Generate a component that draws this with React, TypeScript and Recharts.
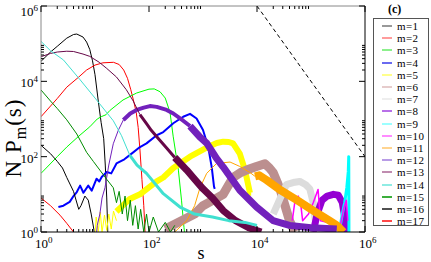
import React from 'react';
import { LineChart, Line, XAxis, YAxis } from 'recharts';

type Pt = [number, number];

// values (s, N*P_m(s))
const m1: Pt[] = [[1, 3.4e4], [1.5, 6e4], [2, 8.5e4], [3, 1.4e5], [4, 1.75e5], [4.6, 1.8e5], [6, 1.5e5], [7, 1.1e5], [8, 7e4], [9, 3.5e4], [10, 1.5e4], [11.5, 3000], [13, 800], [14.5, 300], [15.5, 60], [16.5, 8], [17.5, 0.5]];
const m2: Pt[] = [[1, 1150], [2, 3500], [3, 7000], [5, 1.3e4], [7, 2e4], [10, 2.7e4], [14, 3.1e4], [22, 3.2e4], [28, 2.8e4], [34, 2e4], [40, 1.2e4], [46, 6000], [52, 3000], [58, 1500], [63, 600], [68, 150], [74, 25], [80, 5], [86, 0.6]];
const m3: Pt[] = [[1, 36], [2, 100], [3, 180], [5, 350], [8, 620], [11, 1000], [13, 1150], [16, 1300], [19, 1700], [33, 3200], [59, 4900], [100, 6200], [125, 6300], [160, 5300], [200, 3600], [245, 1500], [280, 350], [350, 44], [400, 7], [445, 1.3], [470, 0.6]];
const m4: Pt[] = [[2.1, 4.6], [2.6, 5], [3.4, 6.3], [4, 9], [4.6, 11.5], [5.3, 17], [6.1, 11], [7.5, 17], [8.7, 12.5], [10.7, 26], [12, 22], [13.3, 29], [16.5, 39], [20, 36], [25, 66], [35, 85], [44, 110], [68, 180], [90, 225], [139, 370], [184, 450], [282, 770], [430, 1150], [575, 1370], [760, 1030], [1000, 510], [1250, 180], [1450, 53], [1600, 16], [1650, 14]];
const m5Start: Pt[] = [[10, 0.8], [10.5, 2.5], [11.5, 1], [12.5, 3.4], [13.5, 1], [15, 2.8], [16.5, 1.1], [18, 3], [20, 1.2], [22, 3.6], [25, 2]];
const m5Band: Pt[] = [[25, 3.5], [30, 4.5], [44, 7.5], [68, 10], [104, 16], [139, 22], [184, 28], [282, 50], [575, 100], [1170, 175], [1800, 230], [2370, 250], [3000, 245], [3600, 225], [4800, 120], [6000, 44], [7400, 11], [7800, 11]];
const m6: Pt[] = [[200, 1.2], [400, 2], [700, 3], [1000, 5], [1540, 7], [2370, 10], [3000, 18], [3600, 28], [5000, 38], [6400, 44], [9800, 55], [14000, 65], [17000, 50], [19900, 38], [24000, 20], [27000, 13], [33000, 5], [40000, 2], [50000, 1]];
const m7: Pt[] = [[20000, 3], [28000, 9], [35000, 18], [50000, 21], [62000, 22], [80000, 18], [95000, 14], [110000, 6], [120000, 2]];
const m8: Pt[] = [[1.1e5, 1], [1.3e5, 3], [1.6e5, 7], [2e5, 9], [2.6e5, 10], [3.2e5, 9.5], [3.8e5, 6], [4.3e5, 2], [4.5e5, 1]];
const m9: Pt[] = [[3.4e5, 1.2], [3.8e5, 3], [4.2e5, 6], [4.6e5, 15], [4.9e5, 40], [5e5, 100], [5.05e5, 0.5]];
const m10: Pt[] = [[4.5e4, 2], [5e4, 6], [5.8e4, 9], [6.5e4, 5], [7e4, 2], [9e4, 3], [1.1e5, 6], [1.35e5, 13.5], [1.5e5, 2], [3.5e5, 1.5], [4e5, 4], [4.5e5, 7], [4.8e5, 2]];
const m11Rise: Pt[] = [[300, 1], [500, 2], [700, 5], [880, 15], [1170, 36], [1780, 66], [3170, 72], [4800, 55], [7400, 38], [9200, 30]];
const m11Tail: Pt[] = [[9200, 30], [11000, 32], [15000, 24], [27000, 13], [55000, 7], [1.1e5, 3.7], [2.2e5, 2], [3e5, 1.5], [4e5, 1]];
const m12Rise: Pt[] = [[10.5, 0.7], [11, 1.5], [12.3, 3], [13.5, 8], [15.3, 15], [18, 60], [21.8, 220], [27, 500], [33.5, 940]];
const m12Band: Pt[] = [[33.5, 940], [45, 1400], [59, 1740], [80, 2000], [104, 2200], [139, 2100], [212, 1740], [282, 1400], [430, 900], [575, 650]];
const m12Tail: Pt[] = [[575, 650], [880, 330], [1170, 230], [1780, 90], [2370, 53], [4800, 12.8], [9800, 4.6], [19900, 2], [40000, 1.5], [1e5, 1.3], [3e5, 1.2]];
const m13Head: Pt[] = [[1, 4.5e4], [1.5, 5.5e4], [2, 6e4], [3, 6.3e4], [4, 6.2e4], [6, 5.3e4], [8, 4.6e4], [12, 3.2e4], [16.5, 2.2e4], [25, 1.3e4], [38, 6000], [51, 3000], [68, 1300]];
const m13Band: Pt[] = [[68, 1300], [90, 750], [110, 500], [150, 300], [212, 170], [300, 95]];
const m13Tail: Pt[] = [[300, 95], [500, 44], [700, 25], [1000, 14], [1500, 8], [2370, 3.7], [4000, 2], [7000, 1.3], [12000, 1]];
const m14Head: Pt[] = [[1, 1.15e5], [1.5, 6.5e4], [2.6, 3.7e4], [5.3, 1.1e4], [10.7, 3200], [21.8, 900], [31, 360], [44, 110]];
const m14Band: Pt[] = [[44, 110], [60, 60], [90, 36], [184, 10.4], [375, 4.6], [700, 3], [1500, 2.5], [3000, 2], [6000, 1.8], [10000, 1.5]];
const m15: Pt[] = [[1, 5900], [1.5, 3000], [2, 1900], [3, 950], [4.6, 400], [7, 130], [9.3, 75], [12.3, 44], [16.5, 25], [21.8, 15], [25, 6], [28, 12], [32, 3], [36, 9], [40, 2], [45, 7], [50, 1.5], [56, 5], [63, 1.2], [70, 4], [80, 1], [90, 3], [100, 1], [120, 2.5], [150, 1], [200, 1.8], [250, 1], [300, 1.5]];
const m16: Pt[] = [[1, 200], [1.5, 120], [2, 75], [2.5, 50], [3, 28], [4, 12], [5, 4], [5.5, 5], [6.5, 9], [7.5, 7], [8.5, 3], [9.5, 1.2], [10, 0.5]];
const m17: Pt[] = [[1, 8], [1.5, 5], [2.25, 2.8], [3, 1.7], [4, 1], [4.5, 0.7]];
const guide: Pt[] = [[1e4, 1e6], [1e6, 100]];

const legendNames = ['m=1', 'm=2', 'm=3', 'm=4', 'm=5', 'm=6', 'm=7', 'm=8', 'm=9', 'm=10', 'm=11', 'm=12', 'm=13', 'm=14', 'm=15', 'm=16', 'm=17'];
const lineColors = ['#000000', '#ff0000', '#00ff00', '#0000ff', '#ffff00', '#bc8f8f', '#dcdcdc', '#9400d3', '#00ffff', '#ff00ff', '#ffa500', '#7221bc', '#670748', '#40e0d0', '#008b00', '#000000', '#ff0000'];
const legendColors = ['#999999', '#ff9c9c', '#8cf08c', '#6a6af0', '#ffff8c', '#e6cccc', '#eeeeee', '#b870e8', '#9cffff', '#ff8cff', '#ffd490', '#b89ce6', '#c08cb0', '#90ece4', '#3cae3c', '#505050', '#ff4848'];

// tick values (same on both axes); labelled ones are the even powers of ten
const tickValues = [1, 2, 3, 4, 5, 6, 7, 8, 9, 100, 200, 300, 400, 500, 600, 700, 800, 900, 1e4, 2e4, 3e4, 4e4, 5e4, 6e4, 7e4, 8e4, 9e4, 1e6];
const majorTicks = [1, 100, 1e4, 1e6];

const serif = '"Liberation Serif", "DejaVu Serif", serif';

// each part: [data, series index, stroke width]
const parts: [Pt[], number, number][] = [
  [m1, 0, 1], [m2, 1, 1], [m3, 2, 1], [m4, 3, 2],
  [m5Start, 4, 1], [m5Band, 4, 6], [m6, 5, 9], [m7, 6, 7], [m8, 7, 7],
  [m9, 8, 3], [m10, 9, 1.5], [m11Rise, 10, 1], [m11Tail, 10, 8],
  [m12Rise, 11, 1], [m12Band, 11, 4], [m12Tail, 11, 7],
  [m13Head, 12, 1], [m13Band, 12, 3], [m13Tail, 12, 7],
  [m14Head, 13, 1], [m14Band, 13, 3], [m15, 14, 1], [m16, 15, 1], [m17, 16, 1],
];

// plot on log10 coordinates with linear axes (log-log graph)
const lg = Math.log10;
const toRows = (arr: Pt[]) => arr.map(([s, v]) => ({ x: lg(s), y: lg(v) }));
const logTicks = tickValues.map(lg);
const majorLog = majorTicks.map(lg);
const isMajor = (v: number) => majorLog.some((m) => Math.abs(m - v) < 1e-9);

const Pow = ({ v }: { v: number }) => (
  <>10<tspan dy={-5} fontSize={9}>{Math.round(v)}</tspan></>
);

const BottomTick = ({ x, y, payload }: any) => {
  const major = isMajor(payload.value);
  return (
    <g>
      <line x1={x} x2={x} y1={y} y2={y - (major ? 6 : 3)} stroke="#000" />
      {major && (
        <text x={x - 6} y={y + 16} textAnchor="start" fontFamily={serif} fontSize={13} fill="#000">
          <Pow v={payload.value} />
        </text>
      )}
    </g>
  );
};

const TopTick = ({ x, y, payload }: any) => {
  const major = isMajor(payload.value);
  return <line x1={x} x2={x} y1={y} y2={y + (major ? 6 : 3)} stroke="#000" />;
};

const labelShift: Record<number, number> = { 0: 6, 2: 6, 4: 6, 6: 10 };

const LeftTick = ({ x, y, payload }: any) => {
  const major = isMajor(payload.value);
  return (
    <g>
      <line x1={x} x2={x + (major ? 6 : 3)} y1={y} y2={y} stroke="#000" />
      {major && (
        <text x={x - 3} y={y + labelShift[Math.round(payload.value)]} textAnchor="end" fontFamily={serif} fontSize={13} fill="#000">
          <Pow v={payload.value} />
        </text>
      )}
    </g>
  );
};

const RightTick = ({ x, y, payload }: any) => {
  const major = isMajor(payload.value);
  return <line x1={x} x2={x - (major ? 6 : 3)} y1={y} y2={y} stroke="#000" />;
};

const YLabel = () => (
  <text x={21} y={138} transform="rotate(-90, 21, 138)" textAnchor="middle" fontFamily={serif} fontSize={23} letterSpacing={1} fill="#000">
    N P<tspan dy={5} fontSize={16}>m</tspan><tspan dy={-5}>(s)</tspan>
  </text>
);

const XLabel = () => (
  <text x={201} y={259} textAnchor="middle" fontFamily={serif} fontSize={18} fill="#000">s</text>
);

export default function App() {
  return (
    <div style={{ position: 'absolute', left: 0, top: 0, width: 431, height: 262, background: '#fff' }}>
      <LineChart width={431} height={262} margin={{ top: 5, right: 65, bottom: 0, left: 0 }}>
        <XAxis xAxisId="b" type="number" dataKey="x" domain={[0, 6]} allowDataOverflow
          ticks={logTicks} interval={0} height={30} tickSize={0} tickMargin={0} tickLine={false}
          tick={<BottomTick />} axisLine={{ stroke: '#000' }} label={<XLabel />} />
        <XAxis xAxisId="t" orientation="top" type="number" dataKey="x" domain={[0, 6]} allowDataOverflow
          ticks={logTicks} interval={0} height={1} tickSize={0} tickMargin={0} tickLine={false}
          tick={<TopTick />} axisLine={{ stroke: '#888' }} />
        <YAxis yAxisId="l" type="number" domain={[0, 6]} allowDataOverflow
          ticks={logTicks} interval={0} width={41} tickSize={0} tickMargin={0} tickLine={false}
          tick={<LeftTick />} axisLine={{ stroke: '#888' }} label={<YLabel />} />
        <YAxis yAxisId="r" orientation="right" type="number" domain={[0, 6]} allowDataOverflow
          ticks={logTicks} interval={0} width={1} tickSize={0} tickMargin={0} tickLine={false}
          tick={<RightTick />} axisLine={{ stroke: '#000' }} />
        {parts.map(([arr, idx, w], i) => (
          <Line key={i} xAxisId="b" yAxisId="l" data={toRows(arr)} dataKey="y" type="linear"
            stroke={lineColors[idx]} strokeWidth={w} strokeLinejoin="round" dot={false}
            activeDot={false} isAnimationActive={false} />
        ))}
        <Line xAxisId="t" yAxisId="r" data={toRows(guide)} dataKey="y" type="linear" stroke="#000"
          strokeWidth={1} strokeDasharray="4 3" dot={false} activeDot={false} isAnimationActive={false} />
      </LineChart>
      <div style={{ position: 'absolute', left: 388, top: 2, fontFamily: serif, fontSize: 12, fontWeight: 'bold' }}>(c)</div>
      <div style={{ position: 'absolute', left: 373, top: 18, width: 56, height: 208, border: '1px solid #555', boxSizing: 'border-box', background: '#fff' }}>
        {legendNames.map((name, i) => (
          <div key={name} style={{ position: 'absolute', left: 0, top: 1 + i * 12.2, height: 12, display: 'flex', alignItems: 'center' }}>
            <div style={{ marginLeft: 8, width: 10, height: 2, background: legendColors[i] }} />
            <span style={{ marginLeft: 5, fontFamily: serif, fontSize: 11, letterSpacing: 0.4, lineHeight: '12px', color: '#000' }}>{name}</span>
          </div>
        ))}
      </div>
    </div>
  );
}
